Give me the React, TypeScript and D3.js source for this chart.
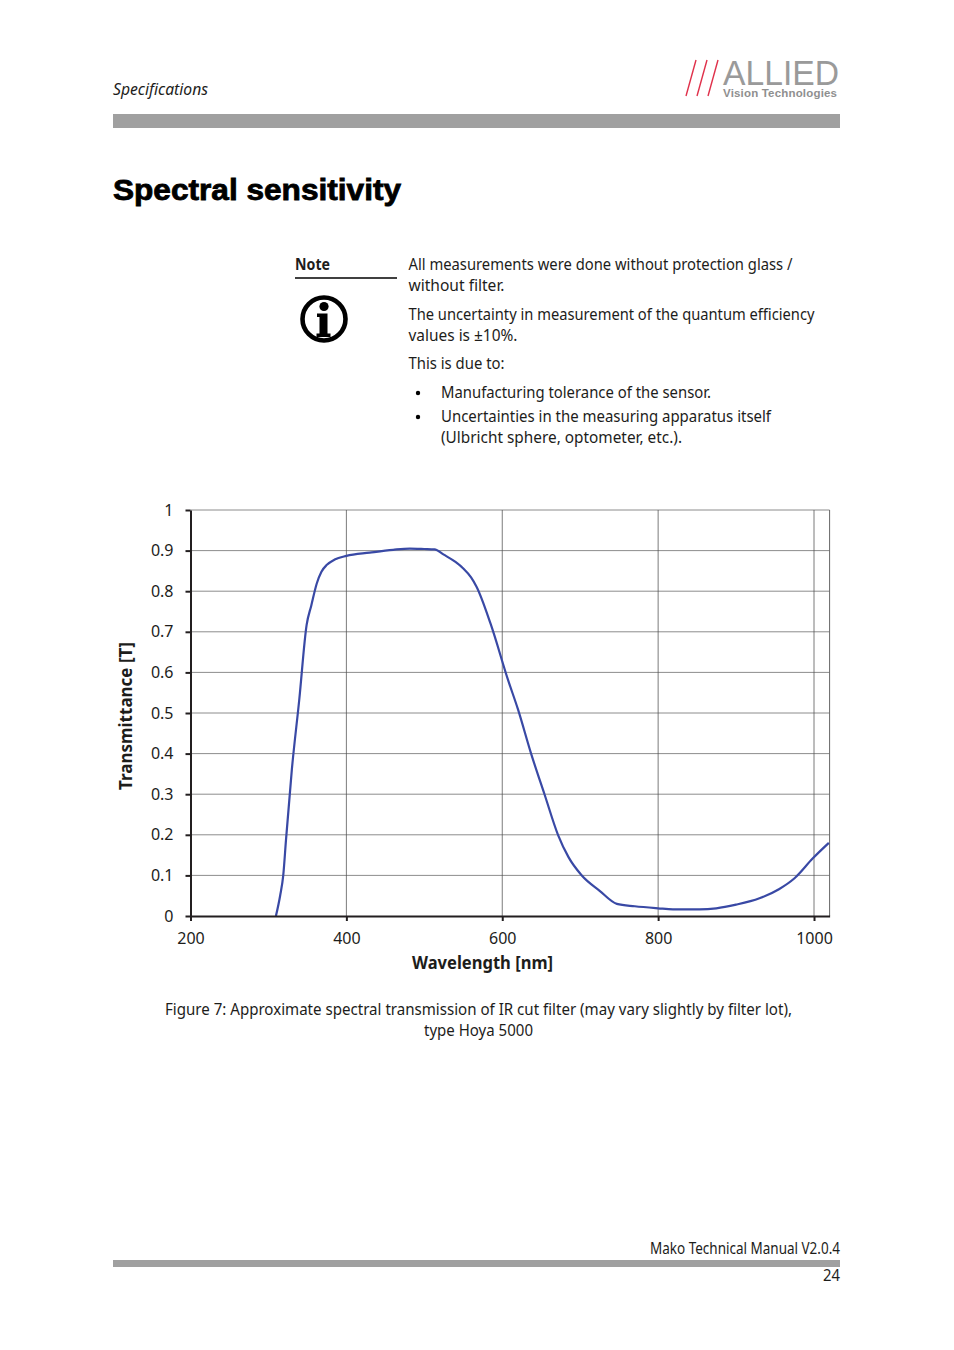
import { useEffect, useRef } from "react";
import * as d3 from "d3";

const wavelengths = [309.6, 315, 319, 322.5, 330, 339.5, 349, 355, 362, 368, 375, 385, 400, 430, 460, 481.5, 500, 513, 525, 540, 550, 560, 567, 585, 607.5, 620, 637, 654.5, 671.5, 685, 701.5, 725, 747, 770, 800, 819, 853, 874.6, 900, 930, 955, 975, 998.5, 1019];
const transmittance = [0, 0.05, 0.1, 0.187, 0.36, 0.532, 0.717, 0.765, 0.819, 0.848, 0.865, 0.878, 0.887, 0.895, 0.902, 0.905, 0.904, 0.903, 0.89, 0.872, 0.856, 0.834, 0.811, 0.72, 0.581, 0.51, 0.4, 0.298, 0.2, 0.145, 0.101, 0.062, 0.03, 0.024, 0.019, 0.0165, 0.0165, 0.019, 0.028, 0.0436, 0.066, 0.093, 0.142, 0.18];
const xTicks = [200, 400, 600, 800, 1000];
const yTicks = [0, 0.1, 0.2, 0.3, 0.4, 0.5, 0.6, 0.7, 0.8, 0.9, 1];
const bodyLines = [
  { text: "All measurements were done without protection glass /", x: 408.5, y: 270, w: 384 },
  { text: "without filter.", x: 408.5, y: 291, w: 96 },
  { text: "The uncertainty in measurement of the quantum efficiency", x: 408.5, y: 320, w: 406 },
  { text: "values is ±10%.", x: 408.5, y: 341, w: 109 },
  { text: "This is due to:", x: 408.5, y: 369, w: 96 },
  { text: "Manufacturing tolerance of the sensor.", x: 441, y: 398, w: 270 },
  { text: "Uncertainties in the measuring apparatus itself", x: 441, y: 422, w: 330 },
  { text: "(Ulbricht sphere, optometer, etc.).", x: 441, y: 443, w: 241 },
];
const bulletRows = [393, 417];
const captionLines = [
  { text: "Figure 7: Approximate spectral transmission of IR cut filter (may vary slightly by filter lot),", y: 1015, w: 627 },
  { text: "type Hoya 5000", y: 1036, w: 109 },
];
const logoSlashes = [0, 1, 2];

const FONT = "'Noto Sans', sans-serif";
const TEXT = "#1d1d1b";

export default function App() {
  const plotRef = useRef<SVGGElement | null>(null);

  useEffect(() => {
    if (!plotRef.current) return;
    const g = d3.select(plotRef.current);
    g.selectAll("*").remove();

    const x = d3.scaleLinear().domain([200, 1020]).range([190.5, 829.6]);
    const y = d3.scaleLinear().domain([0, 1]).range([916, 510]);

    // grid
    g.selectAll("line.gy")
      .data(yTicks.slice(1))
      .enter()
      .append("line")
      .attr("x1", x(200))
      .attr("x2", x(1020))
      .attr("y1", (d) => y(d))
      .attr("y2", (d) => y(d))
      .attr("stroke", "#4f4f4f")
      .attr("stroke-width", 0.65);
    g.selectAll("line.gx")
      .data(xTicks.slice(1))
      .enter()
      .append("line")
      .attr("x1", (d) => x(d))
      .attr("x2", (d) => x(d))
      .attr("y1", y(0))
      .attr("y2", y(1))
      .attr("stroke", "#4f4f4f")
      .attr("stroke-width", 0.75);
    g.append("line")
      .attr("x1", x(1020))
      .attr("x2", x(1020))
      .attr("y1", y(0))
      .attr("y2", y(1))
      .attr("stroke", "#666")
      .attr("stroke-width", 1);

    const line = d3
      .line<number>()
      .x((d) => x(d))
      .y((_, i) => y(transmittance[i]))
      .curve(d3.curveMonotoneX);
    g.append("path")
      .attr("d", line(wavelengths))
      .attr("fill", "none")
      .attr("stroke", "#3949a5")
      .attr("stroke-width", 2.2);

    const axisX = g
      .append("g")
      .attr("transform", `translate(0,${y(0)})`)
      .call(
        d3
          .axisBottom(x)
          .tickValues(xTicks)
          .tickFormat((d) => String(d))
          .tickSizeOuter(0)
          .tickSizeInner(5)
          .tickPadding(12),
      );
    const axisY = g
      .append("g")
      .attr("transform", `translate(${x(200)},0)`)
      .call(
        d3
          .axisLeft(y)
          .tickValues(yTicks)
          .tickFormat((d) => String(d))
          .tickSizeOuter(0)
          .tickSizeInner(5)
          .tickPadding(12),
      );
    [axisX, axisY].forEach((a) => {
      a.select(".domain").attr("stroke", "#231f20").attr("stroke-width", 2);
      a.selectAll(".tick line").attr("stroke", "#231f20").attr("stroke-width", 2);
      a.selectAll("text")
        .attr("fill", TEXT)
        .style("font-family", FONT)
        .style("font-size", "16px");
    });
  }, []);

  return (
    <svg
      width={954}
      height={1350}
      style={{ position: "absolute", left: 0, top: 0, background: "#fff" }}
      fontFamily={FONT}
      fill={TEXT}
    >
      {/* header */}
      <text x={113} y={95} fontSize={16.5} fontStyle="italic" textLength={95} lengthAdjust="spacingAndGlyphs">
        Specifications
      </text>
      {logoSlashes.map((i) => (
        <line
          key={i}
          x1={686 + i * 11}
          y1={96}
          x2={696 + i * 11}
          y2={60}
          stroke="#e0314b"
          strokeWidth={1.4}
        />
      ))}
      <text x={723} y={85} fontSize={35} fill="#9a9a9a" fontFamily="'Liberation Sans', sans-serif" textLength={116} lengthAdjust="spacingAndGlyphs">
        ALLIED
      </text>
      <text x={723} y={97} fontSize={11.5} fontWeight={700} fill="#8f8f8f" fontFamily="'Liberation Sans', sans-serif" textLength={114} lengthAdjust="spacing">
        Vision Technologies
      </text>
      <rect x={113} y={114} width={727} height={14} fill="#a0a0a0" />

      <text
        x={113}
        y={200}
        fontSize={29}
        fontWeight={700}
        fontFamily="'Liberation Sans', sans-serif"
        fill="#000"
        stroke="#000"
        strokeWidth={0.8}
        textLength={288}
        lengthAdjust="spacingAndGlyphs"
      >
        Spectral sensitivity
      </text>

      {/* note */}
      <text x={295} y={270} fontSize={16.5} fontWeight={700} textLength={35} lengthAdjust="spacingAndGlyphs">
        Note
      </text>
      <line x1={295} x2={397} y1={278} y2={278} stroke="#000" strokeWidth={1.5} />
      <circle cx={324} cy={319} r={21.5} fill="none" stroke="#000" strokeWidth={4.6} />
      <circle cx={324} cy={306.5} r={4.6} fill="#000" />
      <path d="M317 313.5h10.5v20h3v3.5h-14v-3.5h3v-16.5h-2.5z" fill="#000" />
      {bodyLines.map((l) => (
        <text key={l.text} x={l.x} y={l.y} fontSize={16.5} textLength={l.w} lengthAdjust="spacingAndGlyphs">
          {l.text}
        </text>
      ))}
      {bulletRows.map((r) => (
        <circle key={r} cx={418} cy={r} r={2.2} fill="#000" />
      ))}

      {/* chart */}
      <g ref={plotRef} />
      <text
        transform="translate(132,716) rotate(-90)"
        textAnchor="middle"
        fontSize={18}
        fontWeight={700}
        textLength={148}
        lengthAdjust="spacingAndGlyphs"
      >
        Transmittance [T]
      </text>
      <text x={412} y={969} fontSize={18} fontWeight={700} textLength={141} lengthAdjust="spacingAndGlyphs">
        Wavelength [nm]
      </text>

      {/* caption */}
      {captionLines.map((l) => (
        <text
          key={l.text}
          x={478.5 - l.w / 2}
          y={l.y}
          fontSize={16.5}
          textLength={l.w}
          lengthAdjust="spacingAndGlyphs"
        >
          {l.text}
        </text>
      ))}

      {/* footer */}
      <text x={650} y={1254} fontSize={15.5} textLength={190} lengthAdjust="spacingAndGlyphs">
        Mako Technical Manual V2.0.4
      </text>
      <rect x={113} y={1260} width={727} height={7} fill="#a0a0a0" />
      <text x={823} y={1281} fontSize={15.5} textLength={17} lengthAdjust="spacingAndGlyphs">
        24
      </text>
    </svg>
  );
}
